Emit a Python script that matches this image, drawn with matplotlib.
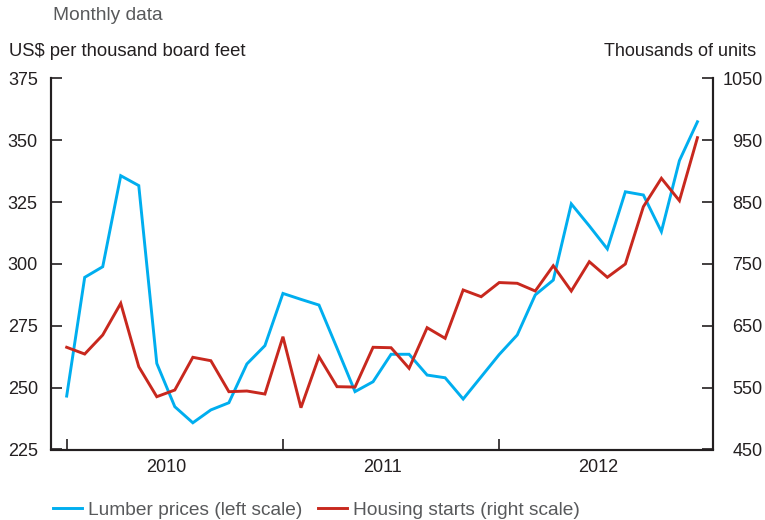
import matplotlib
matplotlib.use("Agg")
import matplotlib.pyplot as plt
import numpy as np

plt.rcParams['font.family'] = ['Liberation Sans', 'DejaVu Sans']

# Monthly, Jan 2010 .. Dec 2012
months = [f"{y}-{m:02d}" for y in (2010, 2011, 2012) for m in range(1, 13)]
lumber = [246.6, 294.6, 298.9, 335.7, 331.7, 259.8, 242.3, 235.8, 241.0, 243.9, 259.6, 267.0,
          288.1, 285.7, 283.4, 266.0, 248.4, 252.4, 263.5, 263.5, 255.1, 254.0, 245.4, 254.4,
          263.4, 271.3, 287.5, 293.5, 324.3, 315.4, 306.1, 329.2, 327.9, 313.1, 341.8, 357.5]
housing = [615.3, 604.4, 635.2, 686.4, 583.9, 535.4, 546.2, 599.1, 593.6, 543.5, 544.6, 539.7,
           632.4, 517.6, 600.1, 551.6, 551.0, 615.3, 614.6, 581.3, 647.0, 629.8, 708.0, 697.1,
           720.0, 718.8, 706.3, 747.2, 706.3, 753.7, 728.5, 750.0, 842.7, 888.6, 852.4, 954.3]
year_labels = ["2010", "2011", "2012"]
left_ticks = [225, 250, 275, 300, 325, 350, 375]
right_ticks = [450, 550, 650, 750, 850, 950, 1050]

blue = '#00AEEF'
red = '#C8281E'
dark = '#231F20'
grey = '#58595B'

fig = plt.figure(figsize=(7.65, 5.2), dpi=100)
ax = fig.add_axes([51/765, 1-449.5/520, (713.3-51)/765, (449.5-78.5)/520])
ax2 = ax.twinx()

x = np.arange(len(months))
l1, = ax.plot(x, lumber, color=blue, lw=2.1, solid_joinstyle='miter', label='Lumber prices (left scale)')
l2, = ax2.plot(x, housing, color=red, lw=2.1, solid_joinstyle='miter', label='Housing starts (right scale)')

ax.set_xlim(-0.87, 35.88)
ax.set_ylim(225, 375)
ax2.set_ylim(450, 1050)
ax.set_yticks(left_ticks)
ax2.set_yticks(right_ticks)

ax.set_xticks([0, 12, 24])
ax.set_xticklabels([])
ax.set_xticks([5.5, 17.5, 29.5], minor=True)
ax.set_xticklabels(year_labels, minor=True)

for a in (ax, ax2):
    for s in a.spines.values():
        s.set_color(dark)
        s.set_linewidth(1.5)
    a.spines['top'].set_visible(False)

ax.tick_params(axis='x', which='major', direction='in', length=8, width=1.2, color=dark)
ax.tick_params(axis='x', which='minor', length=0, pad=7, labelsize=13, labelcolor=dark)
ax.tick_params(axis='y', direction='in', length=8, width=1.2, color=dark, pad=9.5, labelsize=13, labelcolor=dark)
ax2.tick_params(axis='y', direction='in', length=8, width=1.2, color=dark, pad=35.5, labelsize=13, labelcolor=dark)
for lab in ax2.get_yticklabels():
    lab.set_horizontalalignment('right')

fig.text(53/765, 1-16/520, 'Monthly data', fontsize=13.8, color=grey, va='center', ha='left')
fig.text(9/765, 1-51/520, 'US$ per thousand board feet', fontsize=13.3, color=dark, va='center', ha='left')
fig.text(756/765, 1-51/520, 'Thousands of units', fontsize=13, color=dark, va='center', ha='right')

fig.legend(handles=[l1, l2], loc='center left', bbox_to_anchor=(45.5/765, 1-510/520), ncol=2,
           frameon=False, fontsize=13.8, labelcolor=grey, handlelength=1.5, handletextpad=0.3,
           columnspacing=0.85, borderaxespad=0)

fig.savefig('out.png', dpi=100)
